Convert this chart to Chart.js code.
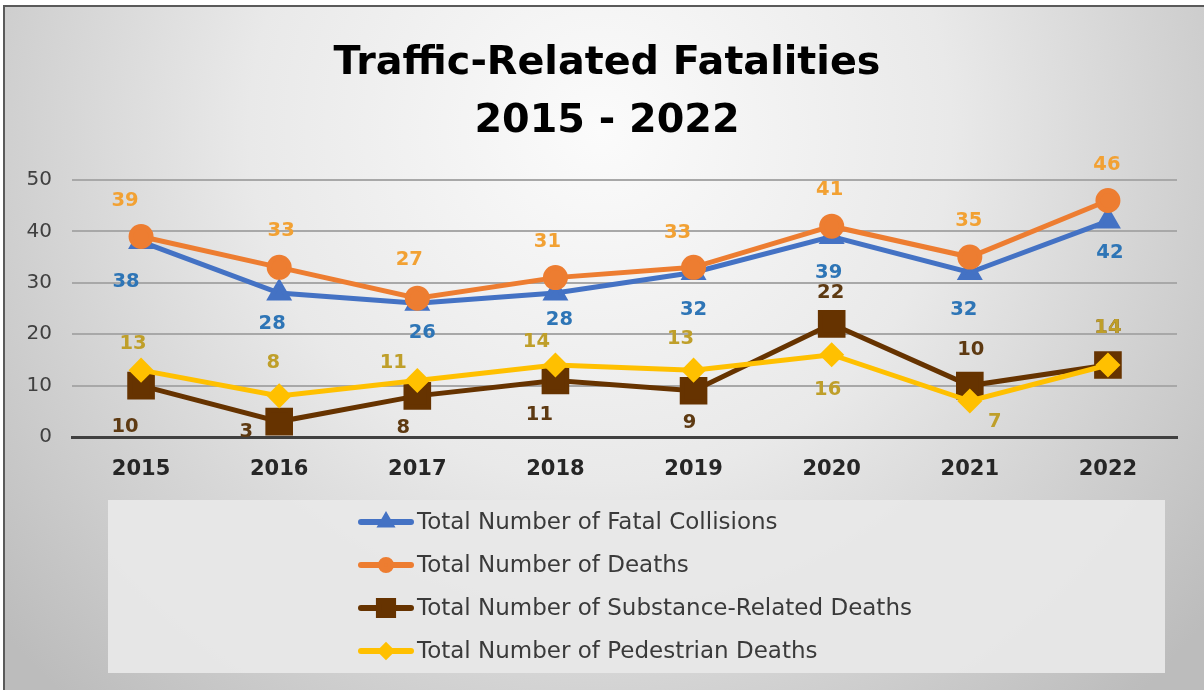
<!DOCTYPE html>
<html>
<head>
<meta charset="utf-8">
<script src="https://cdn.jsdelivr.net/npm/chart.js@4"></script>
<style>
  html, body { margin: 0; padding: 0; background: #fff; }
  #wrap { position: absolute; left: 0; top: 0; width: 1204px; height: 690px; }
</style>
</head>
<body>
<div id="wrap"><canvas id="fatalChart" width="1204" height="690"></canvas></div>
<script>
// dados
const years = ['2015', '2016', '2017', '2018', '2019', '2020', '2021', '2022'];
const fatalCollisions = [38, 28, 26, 28, 32, 39, 32, 42];
const totalDeaths = [39, 33, 27, 31, 33, 41, 35, 46];
const substanceDeaths = [10, 3, 8, 11, 9, 22, 10, 14];
const pedestrianDeaths = [13, 8, 11, 14, 13, 16, 7, 14];
const yTicks = [0, 10, 20, 30, 40, 50];
const seriesNames = [
    'Total Number of Fatal Collisions',
    'Total Number of Deaths',
    'Total Number of Substance-Related Deaths',
    'Total Number of Pedestrian Deaths'
];

const FONT = '"DejaVu Sans", Lato, sans-serif';

// deslocamento dos rótulos (em px, relativo ao ponto)
const labelOffsets = [
    [[-15, 40], [-7, 31], [5, 30], [4, 27], [0, 37], [-3, 36], [-6, 37], [2, 32]],
    [[-16, -36], [2, -36], [-8, -38], [-8, -36], [-16, -34], [-2, -36], [-1, -36], [-1, -36]],
    [[-16, 41], [-33, 10], [-14, 32], [-16, 34], [-4, 32], [-1, -31], [1, -36], [0, -37]],
    [[-8, -26], [-6, -33], [-24, -18], [-19, -23], [-13, -31], [-4, 35], [25, 21], [0, -37]]
];
const labelColors = ['#2E75B6', '#F2A133', '#5E3A12', '#BF9F2A'];

const backgroundPlugin = {
    id: 'bgFill',
    beforeDraw(chart) {
        const ctx = chart.ctx;
        ctx.save();
        ctx.fillStyle = '#ffffff';
        ctx.fillRect(0, 0, chart.width, chart.height);
        const g = ctx.createRadialGradient(600, 130, 0, 600, 130, 780);
        g.addColorStop(0, '#fbfbfb');
        g.addColorStop(0.45, '#e9e9e9');
        g.addColorStop(1, '#bcbcbc');
        ctx.fillStyle = g;
        ctx.fillRect(3, 6, chart.width - 3, chart.height - 6);
        // moldura
        ctx.strokeStyle = '#5a5a5a';
        ctx.lineWidth = 2;
        ctx.beginPath();
        ctx.moveTo(4, chart.height);
        ctx.lineTo(4, 6);
        ctx.lineTo(chart.width, 6);
        ctx.stroke();
        ctx.restore();
    }
};

const valueLabelPlugin = {
    id: 'valueLabels',
    afterDatasetsDraw(chart) {
        const ctx = chart.ctx;
        ctx.save();
        ctx.font = 'bold 19.5px ' + FONT;
        ctx.textAlign = 'center';
        ctx.textBaseline = 'middle';
        chart.data.datasets.forEach((ds, i) => {
            const meta = chart.getDatasetMeta(i);
            ctx.fillStyle = labelColors[i];
            meta.data.forEach((pt, j) => {
                const off = labelOffsets[i][j];
                ctx.fillText(String(ds.data[j]), pt.x + off[0], pt.y + off[1]);
            });
        });
        ctx.restore();
    }
};

const boxLegendPlugin = {
    id: 'boxLegend',
    afterDraw(chart) {
        const ctx = chart.ctx;
        ctx.save();
        ctx.fillStyle = 'rgba(232,232,232,0.95)';
        ctx.fillRect(108, 500, 1057, 173);
        ctx.font = '23px ' + FONT;
        ctx.textBaseline = 'middle';
        ctx.textAlign = 'left';
        chart.data.datasets.forEach((ds, i) => {
            const y = 522 + i * 43;
            ctx.strokeStyle = ds.borderColor;
            ctx.lineWidth = 6;
            ctx.lineCap = 'round';
            ctx.beginPath();
            ctx.moveTo(361, y);
            ctx.lineTo(411, y);
            ctx.stroke();
            ctx.fillStyle = ds.pointBackgroundColor;
            ctx.strokeStyle = ds.borderColor;
            Chart.helpers.drawPoint(ctx, {
                pointStyle: ds.pointStyle,
                radius: ds.legendRadius,
                rotation: 0,
                borderWidth: 1
            }, 386, y);
            ctx.fillStyle = '#3a3a3a';
            ctx.fillText(seriesNames[i], 417, y + 1);
        });
        ctx.restore();
    }
};

const ctx = document.getElementById('fatalChart').getContext('2d');

const fatalChart = new Chart(ctx, {
    type: 'line',
    data: {
        labels: years,
        datasets: [
            {
                label: seriesNames[0],
                data: fatalCollisions,
                borderColor: '#4472C4',
                backgroundColor: '#4472C4',
                pointBackgroundColor: '#4472C4',
                pointBorderColor: '#4472C4',
                pointStyle: 'triangle',
                pointRadius: 10,
                legendRadius: 5,
                borderWidth: 5,
                order: 4
            },
            {
                label: seriesNames[1],
                data: totalDeaths,
                borderColor: '#ED7D31',
                backgroundColor: '#ED7D31',
                pointBackgroundColor: '#ED7D31',
                pointBorderColor: '#ED7D31',
                pointStyle: 'circle',
                pointRadius: 10,
                legendRadius: 5,
                borderWidth: 5,
                order: 3
            },
            {
                label: seriesNames[2],
                data: substanceDeaths,
                borderColor: '#663300',
                backgroundColor: '#663300',
                pointBackgroundColor: '#663300',
                pointBorderColor: '#663300',
                pointStyle: 'rect',
                pointRadius: 16,
                legendRadius: 10,
                borderWidth: 5,
                order: 2
            },
            {
                label: seriesNames[3],
                data: pedestrianDeaths,
                borderColor: '#FFC000',
                backgroundColor: '#FFC000',
                pointBackgroundColor: '#FFC000',
                pointBorderColor: '#FFC000',
                pointStyle: 'rectRot',
                pointRadius: 9,
                legendRadius: 5,
                borderWidth: 5,
                order: 1
            }
        ]
    },
    options: {
        responsive: false,
        animation: false,
        layout: { padding: { left: 10, right: 0, top: 0, bottom: 190 } },
        plugins: {
            legend: { display: false },
            tooltip: { enabled: false },
            title: {
                display: true,
                text: ['Traffic-Related Fatalities', '2015 - 2022'],
                color: '#000000',
                font: { family: FONT, size: 39.7, weight: 'bold', lineHeight: 1.46 },
                padding: { top: 35, bottom: 29 }
            }
        },
        scales: {
            x: {
                offset: true,
                grid: { display: false, drawTicks: false },
                border: { display: true, color: '#404040', width: 3 },
                ticks: {
                    color: '#262626',
                    font: { family: FONT, size: 21, weight: 'bold' },
                    padding: 20
                },
                afterFit(scale) { scale.height = 63; }
            },
            y: {
                min: 0,
                max: 50,
                afterBuildTicks(scale) { scale.ticks = yTicks.map(v => ({ value: v })); },
                grid: {
                    color: (c) => c.tick.value === 0 ? 'rgba(0,0,0,0)' : '#a8a8a8',
                    lineWidth: 2,
                    drawTicks: false
                },
                border: { display: false },
                ticks: {
                    color: '#404040',
                    font: { family: FONT, size: 20 },
                    padding: 20
                },
                afterFit(scale) { scale.width = 62; }
            },
            yRight: {
                position: 'right',
                display: true,
                grid: { display: false, drawTicks: false },
                border: { display: false },
                ticks: { display: false },
                afterFit(scale) { scale.width = 27; }
            }
        }
    },
    plugins: [backgroundPlugin, valueLabelPlugin, boxLegendPlugin]
});

window.addEventListener('resize', () => {
    fatalChart.resize();
});
</script>
</body>
</html>
